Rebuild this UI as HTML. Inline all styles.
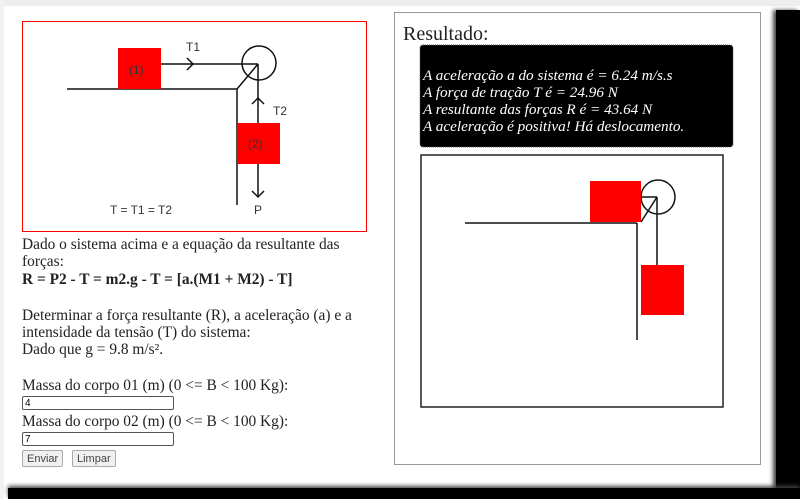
<!DOCTYPE html>
<html><head><meta charset="utf-8"><style>
body{margin:0;width:800px;height:499px;overflow:hidden;background:#fff;position:relative;font-family:"Liberation Serif",serif;}
.a{position:absolute}
.t{position:absolute;font-size:15.4px;color:#222;white-space:nowrap;line-height:16px}
input{position:absolute;height:12px;border:1px solid #555;border-radius:2px;font-size:10px;padding:0 2px;font-family:"Liberation Sans",sans-serif}
button{position:absolute;height:17px;font-size:11px;font-family:"Liberation Sans",sans-serif;border:1px solid #aaa;background:#f0f0f0;color:#444;padding:0 4px;border-radius:2px}
</style></head><body>
<div class="a" style="left:0;top:0;width:800px;height:6px;background:#eee"></div>
<div class="a" style="left:0;top:0;width:4px;height:499px;background:#f2f2f2"></div>
<div class="a" style="left:776px;top:10px;width:24px;height:489px;background:#000;box-shadow:-3px 0 4px #444"></div>
<div class="a" style="left:8px;top:488px;width:792px;height:11px;background:#000;box-shadow:0 -2px 4px #444"></div>
<div class="a" style="left:22px;top:21px;width:343px;height:209px;border:1px solid #f00"></div>
<svg class="a" style="left:0;top:0" width="800" height="499">
<g stroke="#111" stroke-width="1.5" fill="none">
<line x1="67" y1="89" x2="237" y2="89"/>
<polyline points="237,205 237,89 258,64"/>
<circle cx="259" cy="63" r="17"/>
<line x1="161" y1="64" x2="258" y2="64"/>
<polyline points="187,58 193,64 187,70"/>
<line x1="258" y1="64" x2="258" y2="197"/>
<polyline points="252,104 258,98 264,104"/>
<polyline points="252,191 258,197 264,191"/>
<rect x="118" y="48" width="43" height="41" fill="#f00" stroke="none"/>
<rect x="237" y="123" width="43" height="41" fill="#f00" stroke="none"/>
</g>
<g font-family="Liberation Sans,sans-serif" font-size="12" fill="#333">
<text x="129" y="74">(1)</text><text x="248" y="148">(2)</text>
<text x="186" y="51">T1</text><text x="273" y="115">T2</text>
<text x="254" y="214">P</text><text x="110" y="214">T = T1 = T2</text>
</g>
<rect x="394.5" y="12.5" width="366" height="452" fill="none" stroke="#999"/>
<rect x="420" y="45" width="313" height="102" rx="3" fill="#000" stroke="#555" stroke-dasharray="1,1"/>
<rect x="421" y="155" width="302" height="252" fill="none" stroke="#222" stroke-width="1.5"/>
<g stroke="#111" stroke-width="1.5" fill="none">
<line x1="465" y1="223" x2="637" y2="223"/>
<line x1="637" y1="223" x2="637" y2="340"/>
<circle cx="658" cy="197" r="17"/>
<line x1="657" y1="197" x2="657" y2="265"/>
<line x1="641" y1="222" x2="657" y2="197"/>
<line x1="641" y1="197" x2="657" y2="197"/>
<rect x="590" y="181" width="51" height="41" fill="#f00" stroke="none"/>
<rect x="641" y="265" width="43" height="50" fill="#f00" stroke="none"/>
</g>
<text x="403" y="40" font-size="20" fill="#222" font-family="Liberation Serif,serif">Resultado:</text>
<g font-size="15.2" fill="#fff" font-style="italic" font-family="Liberation Serif,serif">
<text x="423" y="80">A aceleração a do sistema é = 6.24 m/s.s</text>
<text x="423" y="97">A força de tração T é = 24.96 N</text>
<text x="423" y="114">A resultante das forças R é = 43.64 N</text>
<text x="423" y="131">A aceleração é positiva! Há deslocamento.</text>
</g>
</svg>
<div class="t" style="left:22px;top:237px">Dado o sistema acima e a equação da resultante das</div>
<div class="t" style="left:22px;top:254px">forças:</div>
<div class="t" style="left:22px;top:272px;font-weight:bold">R = P2 - T = m2.g - T = [a.(M1 + M2) - T]</div>
<div class="t" style="left:22px;top:308px">Determinar a força resultante (R), a aceleração (a) e a</div>
<div class="t" style="left:22px;top:325px">intensidade da tensão (T) do sistema:</div>
<div class="t" style="left:22px;top:342px">Dado que g = 9.8 m/s².</div>
<div class="t" style="left:22px;top:378px">Massa do corpo 01 (m) (0 &lt;= B &lt; 100 Kg):</div>
<input style="left:22px;top:396px;width:146px" value="4">
<div class="t" style="left:22px;top:414px">Massa do corpo 02 (m) (0 &lt;= B &lt; 100 Kg):</div>
<input style="left:22px;top:432px;width:146px" value="7">
<button style="left:22px;top:450px">Enviar</button>
<button style="left:72px;top:450px">Limpar</button>
</body></html>
